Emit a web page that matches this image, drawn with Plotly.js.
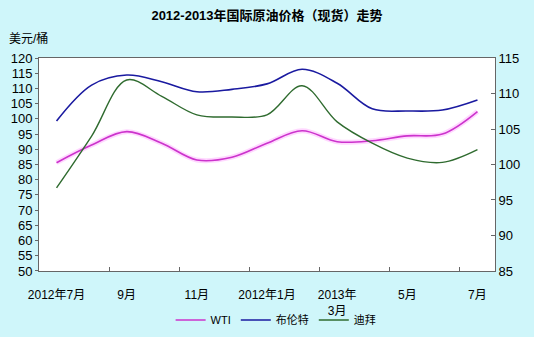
<!DOCTYPE html>
<html>
<head>
<meta charset="utf-8">
<script src="https://cdn.plot.ly/plotly-3.0.1.min.js"></script>
<style>html,body{margin:0;padding:0;background:#cff6fa;}#chart{width:534px;height:337px;}</style>
</head>
<body>
<div id="chart"></div>
<script>
var months = ["2012-07","2012-08","2012-09","2012-10","2012-11","2012-12","2013-01","2013-02","2013-03","2013-04","2013-05","2013-06","2013-07"];
var tickMonths = ["2012-07","2012-09","2012-11","2013-01","2013-03","2013-05","2013-07"];
var tickLabels = ["2012年7月","9月","11月","2012年1月","2013年<br>3月","5月","7月"];
var wti   = [85.6, 91.4, 95.8, 92.0, 86.5, 87.4, 92.0, 96.1, 92.5, 92.8, 94.4, 95.0, 102.4];
var brent = [99.3, 111.1, 114.4, 112.2, 108.9, 109.7, 111.5, 116.3, 111.7, 103.3, 102.6, 102.9, 106.2];
var dubai = [96.7, 104.0, 111.9, 109.6, 107.0, 106.7, 107.0, 111.1, 106.0, 103.0, 100.9, 100.3, 102.1];

var font = "Liberation Sans, Arial, Noto Sans CJK SC, sans-serif";
var traces = [
  {x: months, y: wti, type: "scatter", mode: "lines", line: {color: "rgba(255,140,255,0.35)", width: 5, shape: "spline"}, showlegend: false, hoverinfo: "skip"},
  {x: months, y: wti, name: "WTI", type: "scatter", mode: "lines", line: {color: "#cc33cc", width: 1.6, shape: "spline"}},
  {x: months, y: brent, name: "布伦特", type: "scatter", mode: "lines", line: {color: "#1a1aa0", width: 1.6, shape: "spline"}},
  {x: months, y: dubai, name: "迪拜", type: "scatter", mode: "lines", yaxis: "y2", line: {color: "#2f6b2f", width: 1.4, shape: "spline"}}
];
var layout = {
  width: 534, height: 337,
  paper_bgcolor: "#cff6fa", plot_bgcolor: "rgba(0,0,0,0)",
  margin: {l: 39, r: 39, t: 58, b: 0},
  font: {family: font, size: 12, color: "#000"},
  title: {text: "<b>2012-2013年国际原油价格（现货）走势</b>", font: {size: 13, family: font}, x: 0.5, xanchor: "center", y: 0.955, yanchor: "middle"},
  xaxis: {type: "category", categoryorder: "array", categoryarray: months, tickvals: tickMonths, ticktext: tickLabels,
    showgrid: false, showline: true, linecolor: "#666", linewidth: 1, mirror: true, ticks: "inside", ticklen: 4, tickcolor: "#666",
    tickson: "boundaries", tickangle: 0, ticklabelstandoff: 13, automargin: false, tickfont: {size: 12}, range: [-0.5, 12.5], zeroline: false},
  yaxis: {domain: [0.2366, 1], range: [50, 120], dtick: 5, showgrid: false, showline: true, linecolor: "#666", ticks: "outside", ticklen: 3, tickcolor: "#666",
    automargin: false, tickfont: {size: 13}, zeroline: false},
  yaxis2: {domain: [0.2366, 1], range: [85, 115], dtick: 5, overlaying: "y", side: "right", showgrid: false, showline: true, linecolor: "#666",
    automargin: false, ticks: "inside", ticklen: 4, tickcolor: "#666", tickfont: {size: 13}, zeroline: false},
  legend: {orientation: "h", x: 0.52, xanchor: "center", y: 0.061, yanchor: "middle", bgcolor: "rgba(0,0,0,0)",
    font: {size: 11}, itemwidth: 30, tracegroupgap: 0, borderwidth: 0},
  shapes: [{type: "rect", xref: "paper", yref: "paper", x0: 0, x1: 1, y0: 0.2366, y1: 1, fillcolor: "#ffffff", line: {width: 0}, layer: "below"}],
  annotations: [{text: "美元/桶", xref: "paper", yref: "paper", x: -0.07, y: 1.07, xanchor: "left", yanchor: "middle", showarrow: false, font: {size: 12}}],
  showlegend: true
};
Plotly.newPlot("chart", traces, layout, {displayModeBar: false, staticPlot: true});
</script>
</body>
</html>
